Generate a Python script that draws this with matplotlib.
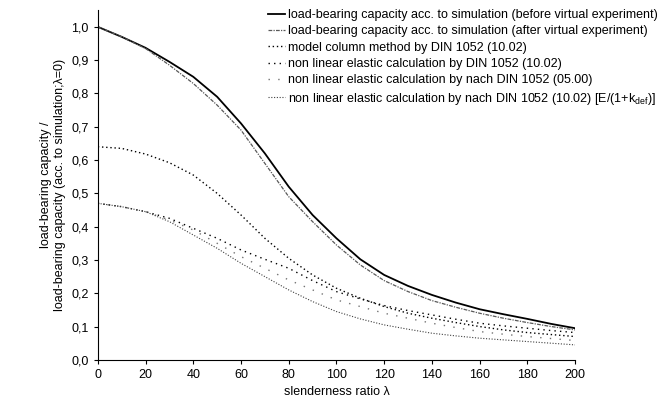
import matplotlib.pyplot as plt
import numpy as np

plt.rcParams['font.family'] = ['Liberation Sans', 'DejaVu Sans']

# slenderness ratio
lam = [0, 10, 20, 30, 40, 50, 60, 70, 80, 90, 100, 110, 120, 130, 140, 150, 160, 170, 180, 190, 200]

sim_before = [1.0, 0.97, 0.937, 0.895, 0.85, 0.79, 0.71, 0.62, 0.52, 0.435, 0.365, 0.302,
              0.255, 0.222, 0.195, 0.172, 0.152, 0.137, 0.123, 0.108, 0.095]
sim_after = [1.0, 0.97, 0.935, 0.885, 0.83, 0.765, 0.69, 0.59, 0.49, 0.415, 0.345, 0.285,
             0.238, 0.205, 0.178, 0.158, 0.14, 0.125, 0.112, 0.1, 0.09]
model_column = [0.64, 0.635, 0.618, 0.592, 0.555, 0.5, 0.435, 0.365, 0.305, 0.255, 0.215, 0.185,
                0.16, 0.14, 0.125, 0.112, 0.1, 0.09, 0.082, 0.076, 0.07]
nl_1002 = [0.47, 0.46, 0.445, 0.425, 0.395, 0.365, 0.33, 0.302, 0.275, 0.238, 0.205, 0.183,
           0.163, 0.148, 0.135, 0.122, 0.11, 0.102, 0.095, 0.088, 0.082]
nl_0500 = [0.47, 0.46, 0.445, 0.42, 0.39, 0.35, 0.31, 0.275, 0.24, 0.21, 0.18, 0.16,
           0.14, 0.125, 0.11, 0.097, 0.085, 0.077, 0.07, 0.064, 0.058]
nl_1002_k = [0.47, 0.46, 0.445, 0.415, 0.375, 0.335, 0.29, 0.25, 0.21, 0.175, 0.145, 0.123,
             0.105, 0.092, 0.08, 0.072, 0.065, 0.06, 0.055, 0.05, 0.045]

labels = ['load-bearing capacity acc. to simulation (before virtual experiment)',
          'load-bearing capacity acc. to simulation (after virtual experiment)',
          'model column method by DIN 1052 (10.02)',
          'non linear elastic calculation by DIN 1052 (10.02)',
          'non linear elastic calculation by nach DIN 1052 (05.00)',
          r'non linear elastic calculation by nach DIN 1052 (10.02) [E/(1+k$_\mathregular{def}$)]']

fig = plt.figure(figsize=(6.61, 4.08), dpi=100)
ax = fig.add_axes([0.148, 0.118, 0.722, 0.857])

ax.plot(lam, sim_before, color='black', lw=1.3, label=labels[0])
ax.plot(lam, sim_after, color='0.35', lw=0.9, ls=(0, (3, 1, 1, 1)), label=labels[1])
ax.plot(lam, model_column, color='black', lw=1.0, ls=(0, (1, 2)), label=labels[2])
ax.plot(lam, nl_1002, color='black', lw=1.0, ls=(0, (1, 3)), label=labels[3])
ax.plot(lam, nl_0500, color='0.45', lw=1.0, ls=(0, (1, 6)), label=labels[4])
ax.plot(lam, nl_1002_k, color='0.25', lw=0.8, ls=(0, (1, 1.5)), label=labels[5])

ax.set_xlim(0, 200)
ax.set_ylim(0, 1.05)
ax.set_xticks(np.arange(0, 201, 20))
yt = np.arange(0, 1.01, 0.1)
ax.set_yticks(yt)
ax.set_yticklabels([('%.1f' % v).replace('.', ',') for v in yt])
ax.tick_params(labelsize=9, direction='out', length=3, width=0.8)
ax.spines['top'].set_visible(False)
ax.spines['right'].set_visible(False)
ax.set_xlabel('slenderness ratio λ', fontsize=9)
ax.set_ylabel('load-bearing capacity /\nload-bearing capacity (acc. to simulation;λ=0)', fontsize=9)

fig.legend(loc='upper left', bbox_to_anchor=(0.405, 0.978), frameon=False, fontsize=9,
           handlelength=1.4, handletextpad=0.2, labelspacing=0.35, borderpad=0, borderaxespad=0)

fig.savefig('out.png', dpi=100)
